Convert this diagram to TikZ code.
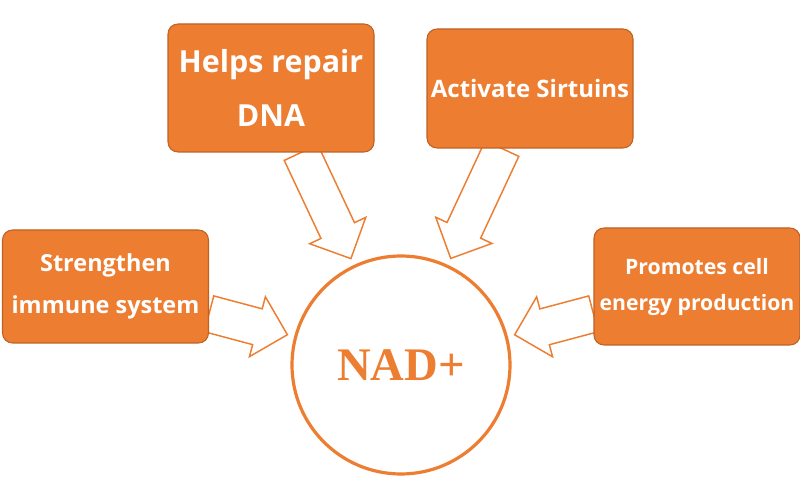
\documentclass[tikz,border=0pt]{standalone}
\usepackage{fontspec}
\setmainfont{Liberation Serif}
\setsansfont{Open Sans}
\usetikzlibrary{calc,backgrounds}
\definecolor{nadorange}{RGB}{237,125,49}
\definecolor{nadedge}{RGB}{190,98,36}
\tikzset{
  benefitbox/.style={rectangle,rounded corners=7.5pt,draw=nadedge,line width=0.8pt,fill=nadorange,text=white,align=center,minimum width=154.5pt,inner sep=2pt},
  nadnode/.style={circle,draw=nadorange,line width=2.4pt,fill=white,minimum size=163.5pt,text=nadorange,font=\fontsize{35}{40}\selectfont\bfseries},
  hollowarrow/.style={draw=nadorange,line width=1.1pt,fill=white,line join=miter}
}
% block arrow from a start coordinate towards the centre node
\newcommand{\outlinearrow}[2]{%
  \coordinate (#1-tip) at ($(#2)!88.2pt!(#1)$);
  \coordinate (#1-base) at ($(#2)!111.45pt!(#1)$);
  \draw[hollowarrow] ($(#1)!13.9pt!90:(#2)$) -- ($(#1-base)!13.9pt!90:(#2)$)
    -- ($(#1-base)!23.25pt!90:(#2)$) -- (#1-tip)
    -- ($(#1-base)!23.25pt!-90:(#2)$) -- ($(#1-base)!13.9pt!-90:(#2)$)
    -- ($(#1)!13.9pt!-90:(#2)$) -- cycle;
}

\begin{document}
\begin{tikzpicture}[x=0.75pt,y=-0.75pt]
  \useasboundingbox (0,0) rectangle (800,498);
  \node[nadnode] (nad) at (401,365) {NAD+};
  \node[benefitbox,minimum height=96pt,font=\sffamily\bfseries\fontsize{22.8}{40}\selectfont] (dna) at (271,88) {Helps repair\\DNA};
  \node[benefitbox,minimum height=89.25pt,font=\sffamily\bfseries\fontsize{18}{24}\selectfont] (sirt) at (530,88.5) {Activate Sirtuins};
  \node[benefitbox,minimum height=84.75pt,font=\sffamily\bfseries\fontsize{17.6}{31.3}\selectfont] (immune) at (105.5,286.5) {Strengthen\\immune system};
  \node[benefitbox,minimum height=87.75pt,font=\sffamily\bfseries\fontsize{15.9}{27}\selectfont] (energy) at (697,286.5) {Promotes cell\\energy production};
  \coordinate (dnaout) at ([xshift=22.5pt]dna.south);
  \coordinate (sirtout) at ([xshift=-21pt]sirt.south);
  \coordinate (immout) at ([yshift=-20.5pt]immune.east);
  \coordinate (energyout) at ([yshift=-20.5pt]energy.west);
  \begin{scope}[on background layer]
    \outlinearrow{dnaout}{nad.center}
    \outlinearrow{sirtout}{nad.center}
    \outlinearrow{immout}{nad.center}
    \outlinearrow{energyout}{nad.center}
  \end{scope}
\end{tikzpicture}
\end{document}
